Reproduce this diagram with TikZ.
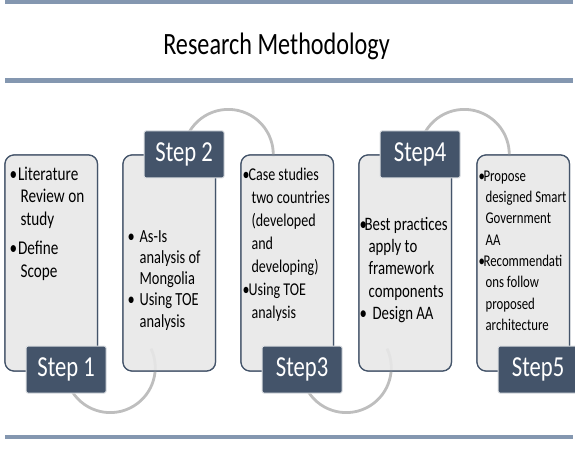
\documentclass[tikz,border=0pt]{standalone}
\usepackage{fontspec}
\setmainfont{Carlito}[FakeStretch=0.78]
\usetikzlibrary{positioning}

\definecolor{slate}{RGB}{68,84,106}
\definecolor{barblue}{RGB}{132,151,176}
\definecolor{boxgray}{RGB}{234,234,234}
\definecolor{arcgray}{RGB}{190,190,190}

\newcommand{\bul}[1]{\makebox[#1][l]{\textbullet}}

\begin{document}
\begin{tikzpicture}[
  x=1pt, y=1pt,
  box/.style={draw=slate, line width=1.2pt, rounded corners=9pt, fill=boxgray,
              fill opacity=0.85, minimum width=92.5pt, minimum height=216pt, inner sep=0pt},
  steplab/.style={draw=white!80!slate, line width=1pt, rounded corners=2pt, fill=slate,
                  text=white, minimum width=80pt, minimum height=47pt, inner sep=0pt,
                  font=\fontsize{29}{29}\selectfont},
  txt/.style={anchor=base west, align=flush left, text width=130pt, inner sep=0pt,
              execute at begin node={\spaceskip=0pt\xspaceskip=0pt}},
  bar/.style={fill=barblue},
  link/.style={draw=arcgray, line width=2.8pt},
  node distance=24.3pt]

\useasboundingbox (0,0) rectangle (575,450);

% Title and rules
\fill[bar] (5,446) rectangle (573,450);
\node[font=\fontsize{31}{31}\selectfont, anchor=base] (title) at (276.5,395) {Research Methodology};
\fill[bar] (5,367) rectangle (573,372);
\fill[bar] (5,11) rectangle (573,15);

% Boxes
\node[box] (b1) at (51.25,187) {};
\node[box, right=of b1] (b2) {};
\node[box, right=of b2] (b3) {};
\node[box, right=of b3] (b4) {};
\node[box, right=of b4] (b5) {};

% Gaps between boxes
\path (b1.south east) -- (b2.south west) coordinate[midway] (g12);
\path (b2.north east) -- (b3.north west) coordinate[midway] (g23);
\path (b3.south east) -- (b4.south west) coordinate[midway] (g34);
\path (b4.north east) -- (b5.north west) coordinate[midway] (g45);

% Arcs
\draw[link] ([yshift=4pt]g12) ++(212:45pt) arc[start angle=212, end angle=385, radius=45pt];
\draw[link] (g23) ++(150:45pt) arc[start angle=150, end angle=-3, radius=45pt];
\draw[link] ([yshift=4pt]g34) ++(212:45pt) arc[start angle=212, end angle=385, radius=45pt];
\draw[link] (g45) ++(150:45pt) arc[start angle=150, end angle=-3, radius=45pt];

% Redraw boxes over arcs
\node[box] at (b1) {};
\node[box] at (b2) {};
\node[box] at (b3) {};
\node[box] at (b4) {};
\node[box] at (b5) {};

% Step labels
\node[steplab, anchor=south east] (s1) at ([xshift=8.5pt, yshift=-22pt]b1.south east) {Step 1};
\node[steplab, anchor=north east] (s2) at ([xshift=8.5pt, yshift=24pt]b2.north east) {Step 2};
\node[steplab, anchor=south east] (s3) at ([xshift=8.5pt, yshift=-22pt]b3.south east) {Step3};
\node[steplab, anchor=north east] (s4) at ([xshift=8.5pt, yshift=24pt]b4.north east) {Step4};
\node[steplab, anchor=south east] (s5) at ([xshift=8.5pt, yshift=-22pt]b5.south east) {Step5};

% Box texts
\node[txt, font=\fontsize{19.5}{22.5}\selectfont] (t1) at ([xshift=5pt, yshift=-26pt]b1.north west)
  {\bul{8.5pt}Literature\\ \hspace*{11pt}Review on\\ \hspace*{11pt}study\\[7pt]
   \bul{8.5pt}Define\\ \hspace*{11pt}Scope};
\node[txt, font=\fontsize{18.5}{21.2}\selectfont] (t2) at ([xshift=5pt, yshift=-88pt]b2.north west)
  {\bul{12pt}As-Is\\ \hspace*{12pt}analysis of\\ \hspace*{12pt}Mongolia\\
   \bul{12pt}Using TOE\\ \hspace*{12pt}analysis};
\node[txt, font=\fontsize{18}{23}\selectfont] (t3) at ([xshift=2pt, yshift=-26pt]b3.north west)
  {\bul{6pt}Case studies\\ \hspace*{9pt}two countries\\ \hspace*{9pt}(developed\\
   \hspace*{9pt}and\\ \hspace*{9pt}developing)\\ \bul{6pt}Using TOE\\ \hspace*{9pt}analysis};
\node[txt, font=\fontsize{19}{22.3}\selectfont] (t4) at ([xshift=1pt, yshift=-76pt]b4.north west)
  {\bul{5pt}Best practices\\ \hspace*{9pt}apply to\\ \hspace*{9pt}framework\\
   \hspace*{9pt}components\\ \bul{13pt}Design AA};
\node[txt, font=\fontsize{16.4}{21.3}\selectfont] (t5) at ([xshift=2pt, yshift=-27pt]b5.north west)
  {\bul{5pt}Propose\\ \hspace*{7pt}designed Smart\\ \hspace*{7pt}Government\\
   \hspace*{7pt}AA\\ \bul{5pt}Recommendati\\ \hspace*{7pt}ons follow\\
   \hspace*{7pt}proposed\\ \hspace*{7pt}architecture};
\end{tikzpicture}
\end{document}
